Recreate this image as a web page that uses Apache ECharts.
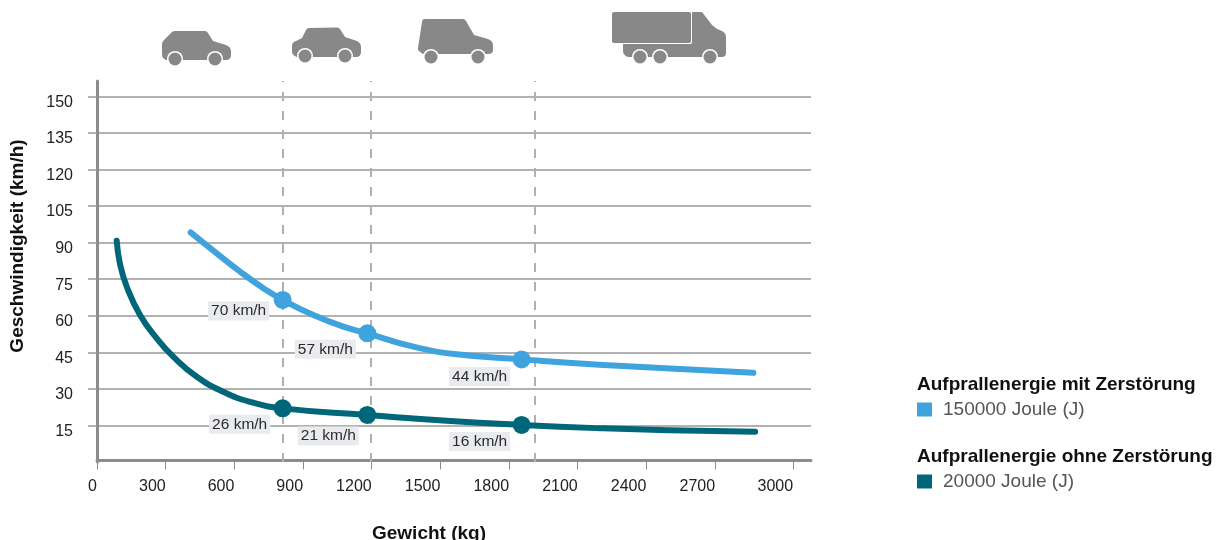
<!DOCTYPE html>
<html><head><meta charset="utf-8">
<style>html,body{margin:0;padding:0;background:#fff}#c{width:1216px;height:540px}</style>
<script src="https://cdn.jsdelivr.net/npm/echarts@6/dist/echarts.min.js"></script>
</head><body><div id="c"></div>
<script>
const zerstoerungCurve = [[409,94.2],[508,86.7],[625,78.1],[727,71.3],[811,66.5],[945,60.3],[1076,55.5],[1181,52.8],[1382,47.3],[1571,44.2],[1855,42.1],[2211,39.8],[2503,38.4],[2867,36.6]];
const ohneCurve = [[86,90.8],[100,81.5],[130,71.9],[188,60.3],[261,50.7],[333,43.2],[436,35],[552,28.8],[668,24.7],[811,22],[1181,19.3],[1528,16.9],[1855,15.2],[2211,13.8],[2503,13],[2875,12.4]];
const zerstoerungDots = [[811,66.5],[1181,52.8],[1855,42.1]];
const ohneDots = [[811,22],[1181,19.3],[1855,15.2]];
const zerstoerungLabels = ['70 km/h','57 km/h','44 km/h'];
const ohneLabels = ['26 km/h','21 km/h','16 km/h'];
const zerstoerungOffsets = [[-44,11],[-42,16],[-42,17]];
const ohneOffsets = [[-43,16],[-39,21],[-42,16.5]];
const classLimits = [810,1197,1913];
const xTicks = [0,300,600,900,1200,1500,1800,2100,2400,2700,3041];
const xTickLabels = ['0','300','600','900','1200','1500','1800','2100','2400','2700','3000'];
const yTicks = [15,30,45,60,75,90,105,120,135,150];
const BLUE='#3fa3de', TEAL='#00677a', GRAY='#888888';
const FONT='"Liberation Sans", Arial, sans-serif';

function dots(pts, labels, offsets, color){
  return {type:'scatter', data:pts.map((p,i)=>({value:p,label:{show:true,formatter:labels[i],offset:offsets[i]}})),
    symbolSize:18, itemStyle:{color, opacity:1}, z:5, silent:true,
    label:{position:'inside',fontFamily:FONT,fontSize:15.5,color:'#2b2b2b',backgroundColor:'#e9ebee',padding:[2,3,1,3]}};
}
function wheel(cx,cy){return [
  {type:'circle',shape:{cx,cy,r:8},style:{fill:'#fff'}},
  {type:'circle',shape:{cx,cy,r:6.5},style:{fill:GRAY}}];}
let shapeId=0;
function body(path){
  const name='vehicle'+(shapeId++);
  echarts.graphic.registerShape(name, echarts.graphic.extendPath(path,{}));
  return {type:name,style:{fill:GRAY}};
}
function txt(x,y,t){return {type:'text',x,y,style:{text:t,font:'bold 19px '+FONT,fill:'#111',verticalAlign:'middle'}};}

const icons=[
 body('M162 44 Q162 42 164 40 L172 32 Q173 31 175 31 L205 31 Q207 31 208 33 L213 41 L226 45 Q231 47 231 51 L231 55 Q231 60 226 60 L166 60 Q162 58 162 55 Z'),
 ...wheel(175,59),...wheel(215,59),
 body('M292 46 Q292 42 296 41 L302 38 L306 30 Q307 28 309 28 L337 27.5 Q339 27.5 340 29 L345 37 L357 41 Q361 43 361 47 L361 52 Q361 57 356 57 L297 57 Q292 55 292 52 Z'),
 ...wheel(305,56),...wheel(345,56),
 body('M418 48 L422 22 Q422 19 425 19 L463 19 Q465 19 466 21 L474 35 L488 39 Q493 41 493 45 L493 50 Q493 54 488 54 L423 54 Q420 52 418 50 Z'),
 ...wheel(431,57),...wheel(478,57),
 body('M623 44 L691 44 L692 12 L702 12 L712 25 Q716 29 722 31 Q726 33 726 37 L726 53 Q726 57 722 57 L628 57 Q623 55 623 51 Z'),
 {type:'rect',shape:{x:611,y:11,width:81,height:33,r:2},style:{fill:'#fff'}},
 {type:'rect',shape:{x:612,y:12,width:79,height:31,r:2},style:{fill:GRAY}},
 ...wheel(640,57),...wheel(660,57),...wheel(710,57)
];

const chart=echarts.init(document.getElementById('c'),null,{renderer:'canvas'});
chart.setOption({
  animation:false, backgroundColor:'#fff',
  grid:{left:97,top:81,width:714,height:381,containLabel:false,outerBoundsMode:'none'},
  xAxis:{type:'value',min:0,max:3119,offset:-1.5,
    name:'Gewicht (kg)',nameLocation:'middle',nameGap:64,
    nameTextStyle:{fontFamily:FONT,fontWeight:'bold',fontSize:19,color:'#111',padding:[0,50,0,0]},
    axisLine:{show:true,lineStyle:{color:'#8c8c8c',width:3}},
    axisTick:{show:true,length:9,customValues:xTicks,lineStyle:{color:'#8c8c8c',width:1}},
    axisLabel:{customValues:xTicks,align:'right',margin:18,fontFamily:FONT,fontSize:16,color:'#222',
      formatter:v=>xTickLabels[xTicks.indexOf(v)]},
    splitLine:{show:false}},
  yAxis:{type:'value',min:0,max:156.3,
    name:'Geschwindigkeit (km/h)',nameLocation:'middle',nameGap:70,
    nameTextStyle:{fontFamily:FONT,fontWeight:'bold',fontSize:19,color:'#111',padding:[0,0,0,51]},
    axisLine:{show:true,lineStyle:{color:'#8c8c8c',width:3}},
    axisTick:{show:true,length:9,customValues:yTicks,lineStyle:{color:'#999',width:1.5}},
    axisLabel:{customValues:yTicks,margin:24,fontFamily:FONT,fontSize:16,color:'#222',verticalAlign:'top',lineHeight:12},
    splitLine:{show:true,lineStyle:{color:'#999',width:1.5}}},
  legend:[
    {left:917,top:400,padding:0,icon:'rect',itemWidth:15,itemHeight:14,itemGap:0,selectedMode:false,data:['150000 Joule (J)'],
     textStyle:{fontFamily:FONT,fontSize:19,color:'#555',padding:[0,0,0,6]}},
    {left:917,top:472,padding:0,icon:'rect',itemWidth:15,itemHeight:14,itemGap:0,selectedMode:false,data:['20000 Joule (J)'],
     textStyle:{fontFamily:FONT,fontSize:19,color:'#555',padding:[0,0,0,6]}}
  ],
  graphic:[...icons, txt(917,385,'Aufprallenergie mit Zerstörung'), txt(917,457,'Aufprallenergie ohne Zerstörung')],
  series:[
    {name:'150000 Joule (J)',type:'line',data:zerstoerungCurve,smooth:0.5,symbol:'none',z:3,silent:true,
     lineStyle:{color:BLUE,width:6,cap:'round'},itemStyle:{color:BLUE},
     markLine:{silent:true,symbol:'none',z:2,label:{show:false},
       lineStyle:{color:'#b0b0b0',width:2,type:[9,10]},
       data:classLimits.map(x=>({xAxis:x}))}},
    {name:'20000 Joule (J)',type:'line',data:ohneCurve,smooth:0.5,symbol:'none',z:3,silent:true,
     lineStyle:{color:TEAL,width:6,cap:'round'},itemStyle:{color:TEAL}},
    dots(zerstoerungDots,zerstoerungLabels,zerstoerungOffsets,BLUE),
    dots(ohneDots,ohneLabels,ohneOffsets,TEAL)
  ]
});
</script></body></html>
